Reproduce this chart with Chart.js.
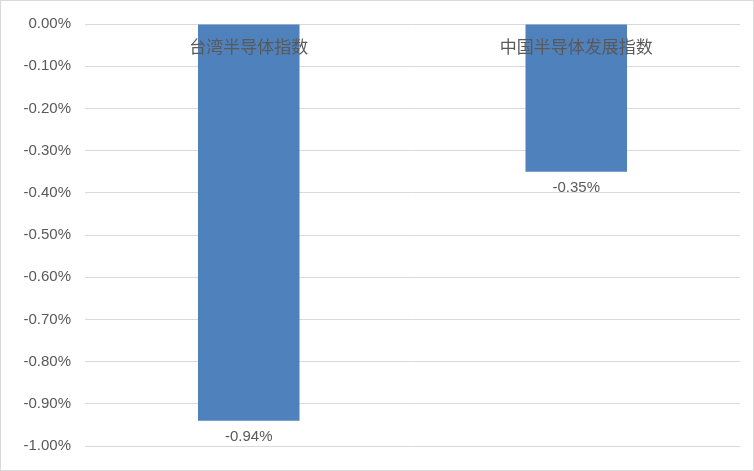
<!DOCTYPE html>
<html>
<head>
<meta charset="utf-8">
<script src="https://cdn.jsdelivr.net/npm/chart.js@4"></script>
<style>
  html, body { margin: 0; padding: 0; background: #fff; }
  #wrap { width: 752px; height: 469px; border: 1px solid #d9d9d9; }
</style>
</head>
<body>
<div id="wrap"><canvas id="chart" width="752" height="469"></canvas></div>
<script>
const categories = ['台湾半导体指数', '中国半导体发展指数'];
const values = [-0.94, -0.35];
const yMin = -1.0, yMax = 0, yStep = 0.1;

// category names on the zero line, value labels under each bar
const labelPlugin = {
    id: 'labels',
    afterDatasetsDraw(chart) {
        const ctx = chart.ctx;
        const meta = chart.getDatasetMeta(0);
        const zeroY = chart.scales.y.getPixelForValue(0);
        ctx.save();
        ctx.textAlign = 'center';
        ctx.fillStyle = '#595959';
        meta.data.forEach((bar, i) => {
            ctx.font = '17px "Noto Sans CJK SC"';
            ctx.textBaseline = 'middle';
            ctx.fillText(categories[i], bar.x, zeroY + 23);
            ctx.font = '15px "Liberation Sans", Arial';
            ctx.textBaseline = 'top';
            ctx.fillText(values[i].toFixed(2) + '%', bar.x, bar.y + 9);
        });
        ctx.restore();
    }
};

new Chart(document.getElementById('chart'), {
    type: 'bar',
    data: {
        labels: categories,
        datasets: [{
            data: values,
            backgroundColor: '#4f81bd',
            barPercentage: 0.31,
            categoryPercentage: 1
        }]
    },
    options: {
        responsive: false,
        animation: false,
        layout: { padding: { top: 23, bottom: 24, right: 13, left: 0 } },
        plugins: { legend: { display: false }, tooltip: { enabled: false } },
        scales: {
            x: { display: false },
            y: {
                min: yMin, max: yMax,
                afterFit(scale) { scale.width = 84; },
                ticks: {
                    stepSize: yStep,
                    padding: 14,
                    color: '#595959',
                    font: { size: 15, family: '"Liberation Sans", Arial' },
                    callback: v => v.toFixed(2) + '%'
                },
                grid: { color: '#d9d9d9', drawTicks: false },
                border: { display: false }
            }
        }
    },
    plugins: [labelPlugin]
});
</script>
</body>
</html>
